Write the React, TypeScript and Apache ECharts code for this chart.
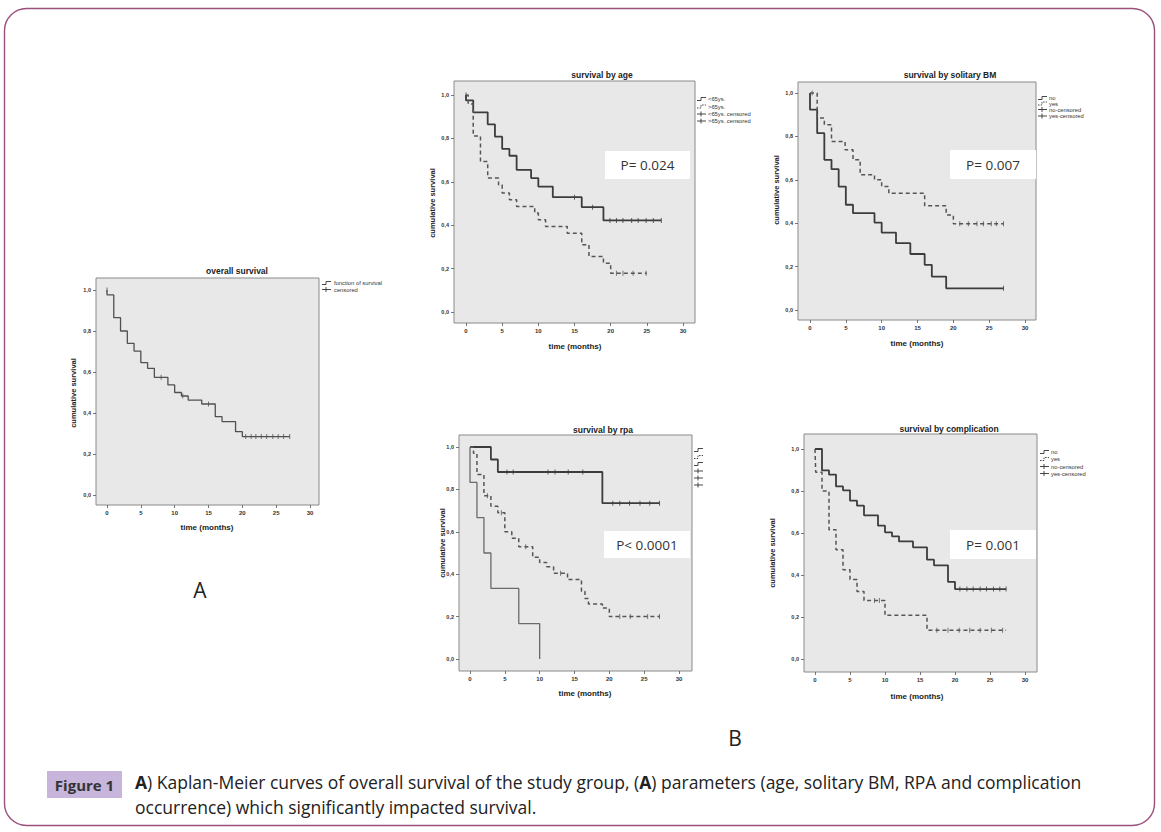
import React, { useEffect, useRef } from "react";
import * as echarts from "echarts";

// ---------------- data ----------------
const xTickValues = [0, 5, 10, 15, 20, 25, 30];
const yTickValues = [0, 0.2, 0.4, 0.6, 0.8, 1.0];

// A: overall survival
const overallTimes = [0, 0, 1, 2, 3, 4, 5, 6, 7, 9, 10, 11, 12, 14, 16, 17, 19, 20, 27];
const overallSurv = [1, 0.976, 0.865, 0.8, 0.74, 0.702, 0.646, 0.618, 0.574, 0.537, 0.5, 0.483, 0.463, 0.444, 0.382, 0.358, 0.309, 0.285, 0.285];
const overallCensor = [0, 8, 11.2, 15, 20.5, 21.3, 22, 22.8, 23.6, 24.5, 25.3, 26.1, 27];
const overallLegend = ["function of survival", "censored"];

// B1: survival by age
const ageYoungTimes = [0, 0, 1, 3, 4, 5, 6, 7, 9, 10, 12, 16, 19, 27];
const ageYoungSurv = [1, 0.975, 0.92, 0.865, 0.808, 0.752, 0.72, 0.655, 0.617, 0.578, 0.529, 0.483, 0.422, 0.422];
const ageYoungCensor = [0, 15, 17.5, 19.9, 20.8, 21.7, 22.9, 23.8, 24.9, 25.9, 27];
const ageOldTimes = [0, 0.3, 1, 2, 3, 4.5, 5, 6, 7, 9.5, 10, 11, 14, 16, 17, 19, 20, 25];
const ageOldSurv = [1, 0.959, 0.811, 0.693, 0.617, 0.586, 0.548, 0.517, 0.486, 0.456, 0.425, 0.394, 0.363, 0.31, 0.256, 0.225, 0.179, 0.179];
const ageOldCensor = [20.8, 21.7, 23.1, 24.9];
const ageLegend = ["<65ys.", ">65ys.", "<65ys. censored", ">65ys. censored"];

// B2: survival by solitary BM
const bmNoTimes = [0, 0, 1, 2, 3, 4, 5, 6, 9, 10, 12, 14, 16, 17, 19, 27];
const bmNoSurv = [1, 0.923, 0.815, 0.692, 0.649, 0.569, 0.485, 0.446, 0.403, 0.357, 0.308, 0.258, 0.208, 0.154, 0.1, 0.1];
const bmNoCensor = [27];
const bmYesTimes = [0, 1, 2, 3, 4.9, 6, 7, 9, 10, 11, 16, 19, 20, 27];
const bmYesSurv = [1, 0.885, 0.854, 0.777, 0.738, 0.692, 0.623, 0.6, 0.569, 0.538, 0.48, 0.438, 0.397, 0.397];
const bmYesCensor = [0.3, 20.9, 22.1, 23.3, 24.2, 25.3, 26, 27];
const bmLegend = ["no", "yes", "no-censored", "yes-censored"];

// B3: survival by rpa
const rpa1Times = [0, 3, 4, 19, 27.2];
const rpa1Surv = [1, 0.941, 0.882, 0.735, 0.735];
const rpa1Censor = [5.3, 6.2, 11.2, 12.2, 14.1, 16.2, 20.5, 21.5, 22.9, 24.4, 25.8, 27.2];
const rpa2Times = [0, 0.5, 1, 2, 3, 4, 5, 6, 7, 9, 10, 11, 12, 14, 16, 16.5, 17, 19, 20, 27.2];
const rpa2Surv = [1, 0.97, 0.87, 0.77, 0.72, 0.69, 0.6, 0.57, 0.53, 0.48, 0.455, 0.435, 0.405, 0.375, 0.32, 0.285, 0.26, 0.24, 0.2, 0.2];
const rpa2Censor = [2.5, 4.5, 8, 13, 21.5, 23, 25.5, 27.2];
const rpa3Times = [0, 0, 1, 2, 3, 7, 10];
const rpa3Surv = [1, 0.833, 0.667, 0.5, 0.333, 0.167, 0];
const rpaLegend = ["rpa grade1", "rpa grade2", "rpa grade3", "rpa grade1-censored", "rpa grade2-censored", "rpa grade3-censored"];

// B4: survival by complication
const compNoTimes = [0, 1, 2, 3, 4, 5, 6, 7, 9, 10, 11, 12, 14, 16, 17, 19, 20, 27.3];
const compNoSurv = [1, 0.898, 0.878, 0.822, 0.803, 0.754, 0.73, 0.684, 0.635, 0.603, 0.584, 0.56, 0.532, 0.473, 0.446, 0.367, 0.333, 0.333];
const compNoCensor = [20.7, 21.7, 22.6, 23.6, 24.5, 25.5, 26.4, 27.3];
const compYesTimes = [0, 0.1, 1, 2, 3, 4, 5, 6, 7, 10, 16, 27.3];
const compYesSurv = [1, 0.889, 0.8, 0.616, 0.52, 0.425, 0.378, 0.322, 0.278, 0.208, 0.137, 0.137];
const compYesCensor = [8.5, 9.2, 17.4, 19, 20.6, 22.1, 23.6, 25.2, 26.8];
const compLegend = ["no", "yes", "no-censored", "yes-censored"];

const pValues = ["P= 0.024", "P= 0.007", "P< 0.0001", "P= 0.001"];

const captionLine1 = "{b|A}) Kaplan-Meier curves of overall survival of the study group, ({b|A}) parameters (age, solitary BM, RPA and complication";
const captionLine2 = "occurrence) which significantly impacted survival.";

// ---------------- layout / style ----------------
const SPSS_FONT = '"Liberation Sans", Arial, sans-serif';
const TEXT_FONT = '"Open Sans", "Noto Sans", sans-serif';

type Curve = { times: number[]; surv: number[]; censor: number[]; dashed: boolean; color: string; width: number };
type Panel = {
  title: string;
  box: number[];
  t0: number; t30: number; y1: number; y0: number;
  titleX: number; titleY: number;
  xNameX: number; xNameY: number;
  yNameX: number; yNameY: number;
  legendX: number; legendTextX: number | null; legendRows: number[]; legendKinds: string[]; legendLabels: string[];
  curves: Curve[];
  pBox: number[] | null; pText: string;
};

const SOLID = "#3c3c3c";
const DASH = "#555555";

const panels: Panel[] = [
  {
    title: "overall survival", box: [96, 278, 319, 505], t0: 107, t30: 310, y1: 290, y0: 495,
    titleX: 237, titleY: 271, xNameX: 207, xNameY: 527, yNameX: 73, yNameY: 393,
    legendX: 322, legendTextX: 334, legendRows: [283, 289.5], legendKinds: ["line", "cens"], legendLabels: overallLegend,
    curves: [{ times: overallTimes, surv: overallSurv, censor: overallCensor, dashed: false, color: "#505050", width: 1.3 }],
    pBox: null, pText: "",
  },
  {
    title: "survival by age", box: [454, 81, 695, 323], t0: 466, t30: 683, y1: 95, y0: 312,
    titleX: 602, titleY: 75, xNameX: 575, xNameY: 346, yNameX: 432, yNameY: 203,
    legendX: 697, legendTextX: 708, legendRows: [99, 106.5, 114, 121], legendKinds: ["line", "dash", "cens", "cens"], legendLabels: ageLegend,
    curves: [
      { times: ageYoungTimes, surv: ageYoungSurv, censor: ageYoungCensor, dashed: false, color: SOLID, width: 1.8 },
      { times: ageOldTimes, surv: ageOldSurv, censor: ageOldCensor, dashed: true, color: DASH, width: 1.5 },
    ],
    pBox: [605, 151, 690, 179], pText: pValues[0],
  },
  {
    title: "survival by solitary BM", box: [798, 82, 1036, 320], t0: 810, t30: 1025, y1: 93, y0: 310,
    titleX: 950, titleY: 75, xNameX: 917, xNameY: 343, yNameX: 776, yNameY: 190,
    legendX: 1038, legendTextX: 1049, legendRows: [98, 103.5, 109.5, 116], legendKinds: ["line", "dash", "cens", "cens"], legendLabels: bmLegend,
    curves: [
      { times: bmNoTimes, surv: bmNoSurv, censor: bmNoCensor, dashed: false, color: SOLID, width: 1.8 },
      { times: bmYesTimes, surv: bmYesSurv, censor: bmYesCensor, dashed: true, color: DASH, width: 1.5 },
    ],
    pBox: [950, 150, 1036, 179], pText: pValues[1],
  },
  {
    title: "survival by rpa", box: [459, 435, 692, 671], t0: 470, t30: 679, y1: 447, y0: 659,
    titleX: 603, titleY: 430, xNameX: 585, xNameY: 693, yNameX: 442, yNameY: 543,
    legendX: 694, legendTextX: null, legendRows: [450, 457, 464, 471, 478, 485], legendKinds: ["line", "dash", "line", "cens", "cens", "cens"], legendLabels: rpaLegend,
    curves: [
      { times: rpa1Times, surv: rpa1Surv, censor: rpa1Censor, dashed: false, color: SOLID, width: 1.8 },
      { times: rpa2Times, surv: rpa2Surv, censor: rpa2Censor, dashed: true, color: DASH, width: 1.5 },
      { times: rpa3Times, surv: rpa3Surv, censor: [], dashed: false, color: "#6a6a6a", width: 1.3 },
    ],
    pBox: [604, 531, 690, 558], pText: pValues[2],
  },
  {
    title: "survival by complication", box: [804, 434, 1037, 672], t0: 815, t30: 1025, y1: 449, y0: 659,
    titleX: 949, titleY: 429, xNameX: 917, xNameY: 696, yNameX: 772, yNameY: 553,
    legendX: 1040, legendTextX: 1051, legendRows: [452, 459, 466.5, 473.5], legendKinds: ["line", "dash", "cens", "cens"], legendLabels: compLegend,
    curves: [
      { times: compNoTimes, surv: compNoSurv, censor: compNoCensor, dashed: false, color: SOLID, width: 1.8 },
      { times: compYesTimes, surv: compYesSurv, censor: compYesCensor, dashed: true, color: DASH, width: 1.5 },
    ],
    pBox: [950, 530, 1036, 559], pText: pValues[3],
  },
];

function survAt(times: number[], surv: number[], t: number) {
  let v = surv[0];
  for (let i = 0; i < times.length; i++) if (times[i] < t) v = surv[i];
  return v;
}

function legendIcon(kind: string, x: number, y: number): any[] {
  const c = "#333";
  if (kind === "cens") {
    return [
      { type: "polyline", z: 20, shape: { points: [[x, y], [x + 9, y]] }, style: { stroke: c, lineWidth: 0.9, fill: null } },
      { type: "line", z: 20, shape: { x1: x + 4, y1: y - 2.5, x2: x + 4, y2: y + 2.5 }, style: { stroke: c, lineWidth: 0.9 } },
    ];
  }
  return [
    {
      type: "polyline", z: 20,
      shape: { points: [[x, y + 1.5], [x + 4, y + 1.5], [x + 4, y - 1.5], [x + 9, y - 1.5]] },
      style: { stroke: c, lineWidth: 0.9, fill: null, lineDash: kind === "dash" ? [1.5, 1.2] : null },
    },
  ];
}

function buildOption() {
  const grid: any[] = [];
  const xAxis: any[] = [];
  const yAxis: any[] = [];
  const series: any[] = [];
  const g: any[] = [];

  // outer frame
  g.push({ type: "rect", z: 0, shape: { x: 4.5, y: 8.5, width: 1150, height: 817, r: 22 }, style: { fill: null, stroke: "#9b4f7b", lineWidth: 1.4 } });

  panels.forEach((p, i) => {
    const [bx0, by0, bx1, by1] = p.box;
    const pxPerMonth = (p.t30 - p.t0) / 30;
    const pxPerUnit = p.y0 - p.y1;
    grid.push({
      left: bx0, top: by0, width: bx1 - bx0, height: by1 - by0,
      show: true, backgroundColor: "#e8e8e8", borderColor: "#8a8a8a", borderWidth: 1,
    });
    xAxis.push({
      type: "value", gridIndex: i, position: "bottom",
      min: (bx0 - p.t0) / pxPerMonth, max: (bx1 - p.t0) / pxPerMonth,
      axisLine: { show: false, onZero: false },
      axisTick: { show: true, length: 3, inside: false, lineStyle: { color: "#555", width: 0.8 }, customValues: xTickValues },
      axisLabel: { fontSize: 6, color: "#333", margin: 5, fontFamily: SPSS_FONT, fontWeight: "bold", customValues: xTickValues, showMinLabel: true, showMaxLabel: true },
      splitLine: { show: false },
    });
    yAxis.push({
      type: "value", gridIndex: i, position: "left",
      min: (p.y0 - by1) / pxPerUnit, max: (p.y0 - by0) / pxPerUnit,
      axisLine: { show: false, onZero: false },
      axisTick: { show: true, length: 3, inside: false, lineStyle: { color: "#555", width: 0.8 }, customValues: yTickValues },
      axisLabel: {
        fontSize: 5.5, color: "#333", margin: 5, fontFamily: SPSS_FONT, fontWeight: "bold", customValues: yTickValues,
        formatter: (v: number) => v.toFixed(1).replace(".", ","),
      },
      splitLine: { show: false },
    });

    p.curves.forEach((c) => {
      series.push({
        type: "line", xAxisIndex: i, yAxisIndex: i, step: "end", showSymbol: false, symbol: "none", z: 3,
        lineStyle: { color: c.color, width: c.width, type: c.dashed ? [4, 3] : "solid" },
        data: c.times.map((t, k) => [t, c.surv[k]]),
        silent: true,
      });
      if (c.censor.length) {
        series.push({
          type: "scatter", xAxisIndex: i, yAxisIndex: i, symbol: "rect", symbolSize: [1, 5], z: 4,
          itemStyle: { color: c.color },
          data: c.censor.map((t) => [t, survAt(c.times, c.surv, t)]),
          silent: true,
        });
      }
    });

    // title
    g.push({ type: "text", z: 20, x: p.titleX, y: p.titleY, style: { text: p.title, fontSize: 8.5, fontWeight: "bold", fontFamily: SPSS_FONT, fill: "#222", align: "center", verticalAlign: "middle" } });
    // axis names
    g.push({ type: "text", z: 20, x: p.xNameX, y: p.xNameY, style: { text: "time (months)", fontSize: 8, fontWeight: "bold", fontFamily: SPSS_FONT, fill: "#222", align: "center", verticalAlign: "middle" } });
    g.push({ type: "text", z: 20, x: p.yNameX, y: p.yNameY, rotation: Math.PI / 2, style: { text: "cumulative survival", fontSize: 7.5, fontWeight: "bold", fontFamily: SPSS_FONT, fill: "#222", align: "center", verticalAlign: "middle" } });
    // legend
    p.legendRows.forEach((ry, k) => {
      g.push(...legendIcon(p.legendKinds[k], p.legendX, ry));
      if (p.legendTextX !== null) {
        g.push({ type: "text", z: 20, x: p.legendTextX, y: ry, style: { text: p.legendLabels[k], fontSize: 5.8, fontFamily: SPSS_FONT, fill: "#333", align: "left", verticalAlign: "middle" } });
      }
    });
    // p value box
    if (p.pBox) {
      const b = p.pBox;
      g.push({ type: "rect", z: 10, shape: { x: b[0], y: b[1], width: b[2] - b[0], height: b[3] - b[1] }, style: { fill: "#ffffff", stroke: null } });
      g.push({ type: "text", z: 11, x: (b[0] + b[2]) / 2, y: (b[1] + b[3]) / 2, style: { text: p.pText, fontSize: 13.5, fontFamily: TEXT_FONT, fill: "#333", align: "center", verticalAlign: "middle" } });
    }
  });

  // panel labels
  g.push({ type: "text", z: 20, x: 200, y: 590, style: { text: "A", fontSize: 21, fontFamily: TEXT_FONT, fill: "#222", align: "center", verticalAlign: "middle" } });
  g.push({ type: "text", z: 20, x: 735, y: 738, style: { text: "B", fontSize: 21, fontFamily: TEXT_FONT, fill: "#222", align: "center", verticalAlign: "middle" } });

  // caption
  g.push({ type: "rect", z: 10, shape: { x: 47, y: 771, width: 75, height: 27 }, style: { fill: "#c7b5db" } });
  g.push({ type: "text", z: 11, x: 84.5, y: 785, style: { text: "Figure 1", fontSize: 15, fontWeight: "bold", fontFamily: TEXT_FONT, fill: "#333", align: "center", verticalAlign: "middle" } });
  const capStyle = { fontSize: 17.5, fontFamily: TEXT_FONT, fill: "#222" };
  g.push({
    type: "text", z: 11, x: 135, y: 782,
    style: { text: captionLine1, ...capStyle, align: "left", verticalAlign: "middle", rich: { b: { ...capStyle, fontWeight: "bold" } } },
  });
  g.push({ type: "text", z: 11, x: 135, y: 807, style: { text: captionLine2, ...capStyle, align: "left", verticalAlign: "middle" } });

  return {
    animation: false,
    backgroundColor: "#ffffff",
    grid, xAxis, yAxis, series,
    graphic: { elements: g },
  };
}

export default function App() {
  const ref = useRef<HTMLDivElement>(null);
  useEffect(() => {
    if (!ref.current) return;
    const chart = echarts.init(ref.current, undefined, { renderer: "svg" });
    chart.setOption(buildOption() as any);
    return () => chart.dispose();
  }, []);
  return <div ref={ref} style={{ position: "fixed", left: 0, top: 0, width: 1161, height: 832 }} />;
}
